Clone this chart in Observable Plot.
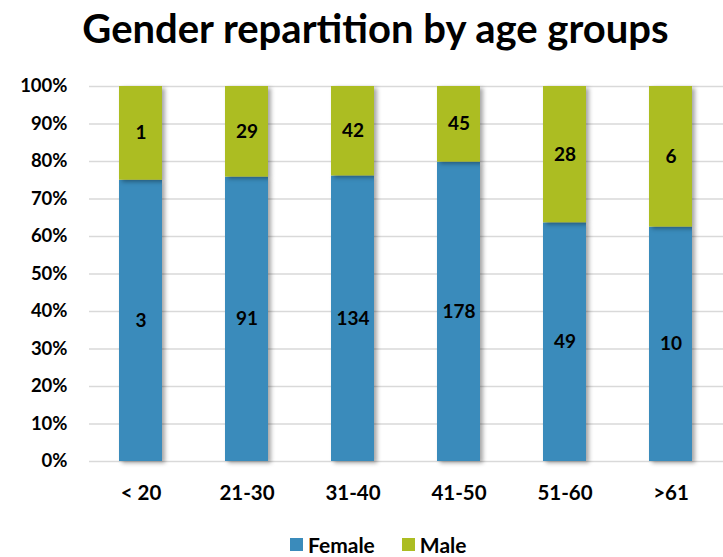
<!DOCTYPE html>
<html><head><meta charset="utf-8">
<script src="https://cdn.jsdelivr.net/npm/d3@7"></script>
<script src="https://cdn.jsdelivr.net/npm/@observablehq/plot@0.6"></script>
<style>
body{margin:0;background:#fff;font-family:Lato,"Open Sans",sans-serif;}
#wrap{width:723px;height:557px;position:relative;}
#title{position:absolute;top:4px;left:0;width:723px;text-align:center;font-weight:bold;font-size:40px;color:#000;padding-left:28px;box-sizing:border-box;}
#chart{position:absolute;top:65px;left:0;}
#legend{position:absolute;top:532px;left:290px;display:flex;font-weight:bold;font-size:21px;color:#000;}
#legend div{display:flex;align-items:center;}
#legend span.sw{display:inline-block;width:13px;height:13px;margin-right:5px;}
</style></head>
<body><div id="wrap">
<div id="title">Gender repartition by age groups</div>
<div id="chart"></div>
<div id="legend"></div>
</div>
<script>
const ageGroups = ["< 20", "21-30", "31-40", "41-50", "51-60", ">61"];
const female = [3, 91, 134, 178, 49, 10];
const male = [1, 29, 42, 45, 28, 6];
const seriesNames = ["Female", "Male"];
const colors = ["#3a8bbb", "#acbd22"];
const yTicks = [0,0.1,0.2,0.3,0.4,0.5,0.6,0.7,0.8,0.9,1];

const data = [];
ageGroups.forEach((g,i)=>{
  data.push({group:g, gender:"Female", count:female[i]});
  data.push({group:g, gender:"Male", count:male[i]});
});

const chart = Plot.plot({
  width:723, height:455,
  marginLeft:89, marginRight:0, marginTop:21, marginBottom:59,
  style:{fontFamily:"Lato, 'Open Sans', sans-serif", fontSize:"18.5px", fontWeight:"bold", color:"#000", background:"transparent"},
  x:{domain:ageGroups, paddingInner:0.59, paddingOuter:0.27, align:0.5, label:null, tickSize:0, tickPadding:24},
  y:{domain:[0,1], ticks:yTicks, tickFormat:d=>Math.round(d*100)+"%", label:null, tickSize:0, tickPadding:22},
  color:{domain:seriesNames, range:colors},
  marks:[
    Plot.gridY(yTicks,{stroke:"#d9d9d9", strokeOpacity:1, strokeWidth:1.5}),
    Plot.barY(data, Plot.stackY({x:"group", y:"count", z:"gender", fill:"gender", offset:"normalize", order:seriesNames})),
    Plot.text(data, Plot.stackY({x:"group", y:"count", z:"gender", text:"count", offset:"normalize", order:seriesNames, fontSize:19, fontWeight:"bold", fill:"#000"}))
  ]
});
d3.select(chart).selectAll("g[aria-label='bar'] rect").style("filter","drop-shadow(3px 2px 2px rgba(0,0,0,0.35))");
d3.select(chart).selectAll("g[aria-label='x-axis tick label'] text").style("font-size","20.5px");
document.getElementById("chart").appendChild(chart);

const leg = d3.select("#legend");
seriesNames.forEach((n,i)=>{
  const d = leg.append("div").style("margin-right", i===0 ? "27px" : "0");
  d.append("span").attr("class","sw").style("background",colors[i]);
  d.append("span").text(n);
});
</script>
</body></html>
